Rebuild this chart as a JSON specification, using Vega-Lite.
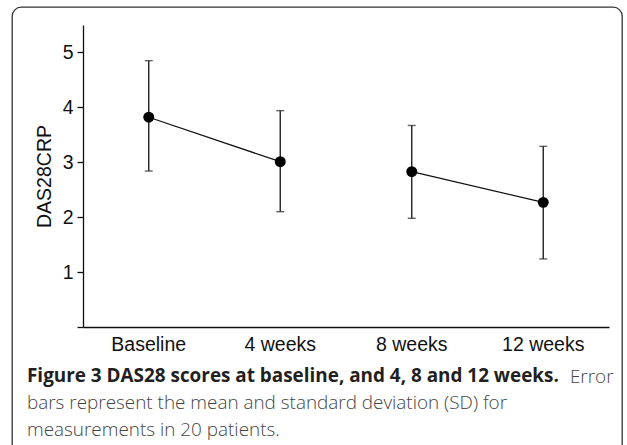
{
  "$schema": "https://vega.github.io/schema/vega-lite/v6.json",
  "width": 610,
  "height": 452,
  "autosize": {"type": "none"},
  "padding": {"left": 12, "top": 7, "right": 5, "bottom": 0},
  "title": {
    "text": "Figure 3 DAS28 scores at baseline, and 4, 8 and 12 weeks.",
    "subtitle": ["bars represent the mean and standard deviation (SD) for", "measurements in 20 patients."],
    "orient": "bottom",
    "anchor": "start",
    "frame": "group",
    "offset": -77,
    "dx": 15,
    "baseline": "alphabetic",
    "font": "Open Sans",
    "fontSize": 18.9,
    "fontWeight": "bold",
    "color": "#231f20",
    "subtitleFont": "Open Sans",
    "subtitleFontSize": 18.9,
    "subtitleFontWeight": 300,
    "subtitleColor": "#444444",
    "subtitleLineHeight": 26.7,
    "subtitlePadding": 8
  },
  "data": {
    "values": [
      {"time": "Baseline", "mean": 3.82, "lo": 2.84, "hi": 4.85, "seg": "A"},
      {"time": "4 weeks", "mean": 3.01, "lo": 2.10, "hi": 3.94, "seg": "A"},
      {"time": "8 weeks", "mean": 2.83, "lo": 1.98, "hi": 3.67, "seg": "B"},
      {"time": "12 weeks", "mean": 2.27, "lo": 1.24, "hi": 3.29, "seg": "B"}
    ]
  },
  "encoding": {
    "x": {
      "field": "time",
      "type": "nominal",
      "sort": ["Baseline", "4 weeks", "8 weeks", "12 weeks"],
      "scale": {"range": [71, 597], "paddingInner": 0, "paddingOuter": 0},
      "axis": {
        "offset": -132,
        "labelAngle": 0,
        "ticks": false,
        "labelFont": "Liberation Sans",
        "labelFontSize": 19.5,
        "labelColor": "#111",
        "labelPadding": 8,
        "domainColor": "#111",
        "domainWidth": 1.3,
        "title": "Error",
        "titleX": 601,
        "titleY": 55,
        "titleAlign": "right",
        "titleBaseline": "alphabetic",
        "titleFont": "Open Sans",
        "titleFontSize": 18.9,
        "titleFontWeight": 300,
        "titleColor": "#444444"
      }
    }
  },
  "layer": [
    {
      "mark": {"type": "rule", "color": "#222", "strokeWidth": 1.4},
      "encoding": {
        "y": {
          "field": "lo",
          "type": "quantitative",
          "scale": {"domain": [0, 5.5], "range": [320, 18], "nice": false, "zero": false},
          "axis": {
            "offset": -71,
            "values": [0, 1, 2, 3, 4, 5],
            "format": "d",
            "labelExpr": "datum.value == 0 ? '' : datum.label",
            "grid": false,
            "tickSize": 6,
            "tickColor": "#111",
            "tickWidth": 1.3,
            "domainColor": "#111",
            "domainWidth": 1.3,
            "labelFont": "Liberation Sans",
            "labelFontSize": 19.5,
            "labelColor": "#111",
            "labelPadding": 4,
            "title": "DAS28CRP",
            "titleFont": "Liberation Sans",
            "titleFontSize": 19.5,
            "titleFontWeight": "normal",
            "titleColor": "#111",
            "titlePadding": 8
          }
        },
        "y2": {"field": "hi"}
      }
    },
    {
      "mark": {"type": "tick", "color": "#222", "thickness": 1.4, "size": 8},
      "encoding": {"y": {"field": "lo", "type": "quantitative"}}
    },
    {
      "mark": {"type": "tick", "color": "#222", "thickness": 1.4, "size": 8},
      "encoding": {"y": {"field": "hi", "type": "quantitative"}}
    },
    {
      "mark": {"type": "line", "color": "#111", "strokeWidth": 1.3},
      "encoding": {
        "y": {"field": "mean", "type": "quantitative"},
        "detail": {"field": "seg"}
      }
    },
    {
      "mark": {"type": "circle", "color": "#000", "opacity": 1, "size": 120},
      "encoding": {"y": {"field": "mean", "type": "quantitative"}}
    }
  ],
  "config": {
    "view": {"stroke": "#333", "strokeWidth": 1.3, "cornerRadius": 9}
  }
}
